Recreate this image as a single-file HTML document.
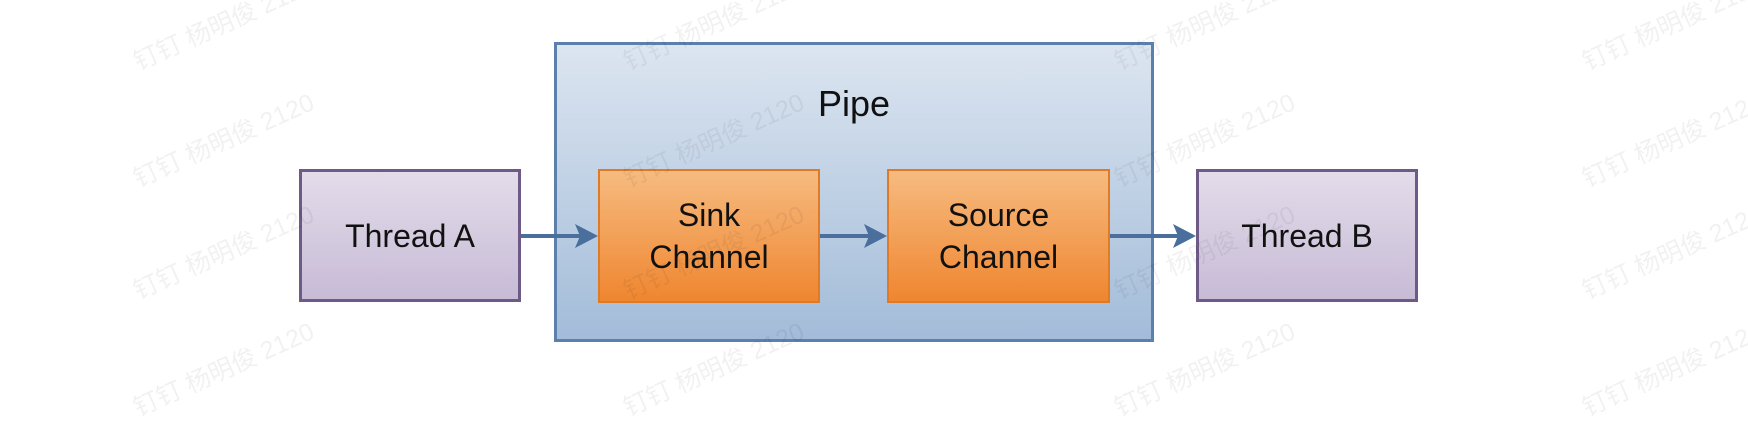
<!DOCTYPE html>
<html><head><meta charset="utf-8"><style>
body{margin:0;width:1748px;height:416px;background:#fff;position:relative;overflow:hidden;font-family:"Liberation Sans",sans-serif}
.b{position:absolute;box-sizing:border-box;display:flex;align-items:center;justify-content:center;text-align:center;color:#111;font-size:32px;line-height:42px}
.wm{position:absolute;color:rgba(0,0,0,0.055);font-size:25px;font-family:"Liberation Sans","Noto Sans CJK SC",sans-serif;transform:translate(-50%,-50%) rotate(-24deg);white-space:nowrap}
</style></head><body>
<div class="b" style="left:554px;top:42px;width:600px;height:300px;border:3px solid #5a80ab;background:linear-gradient(#dce5f0,#a3bcd9);align-items:flex-start;padding-top:38px;font-size:36px">Pipe</div>
<div class="b" style="left:299px;top:169px;width:222px;height:133px;border:3px solid #6d5a86;background:linear-gradient(#e3dcea,#c7bbd6)">Thread A</div>
<div class="b" style="left:1196px;top:169px;width:222px;height:133px;border:3px solid #6d5a86;background:linear-gradient(#e3dcea,#c7bbd6)">Thread B</div>
<div class="b" style="left:598px;top:169px;width:222px;height:134px;border:2px solid #e07a25;background:linear-gradient(#f6bb80,#ef8630)">Sink<br>Channel</div>
<div class="b" style="left:887px;top:169px;width:223px;height:134px;border:2px solid #e07a25;background:linear-gradient(#f6bb80,#ef8630)">Source<br>Channel</div>
<svg style="position:absolute;left:0;top:0" width="1748" height="416">
<g stroke="#4a6f9c" stroke-width="4" fill="#4a6f9c">
<line x1="521" y1="236" x2="580" y2="236"/><polygon points="598,236 575,224 580,236 575,248" stroke="none"/>
<line x1="820" y1="236" x2="870" y2="236"/><polygon points="887,236 864,224 869,236 864,248" stroke="none"/>
<line x1="1110" y1="236" x2="1178" y2="236"/><polygon points="1196,236 1173,224 1178,236 1173,248" stroke="none"/>
</g></svg>
<div class="wm" style="left:223px;top:22px">钉钉 杨明俊 2120</div>
<div class="wm" style="left:713px;top:22px">钉钉 杨明俊 2120</div>
<div class="wm" style="left:1204px;top:22px">钉钉 杨明俊 2120</div>
<div class="wm" style="left:1672px;top:22px">钉钉 杨明俊 2120</div>
<div class="wm" style="left:223px;top:139px">钉钉 杨明俊 2120</div>
<div class="wm" style="left:713px;top:139px">钉钉 杨明俊 2120</div>
<div class="wm" style="left:1204px;top:139px">钉钉 杨明俊 2120</div>
<div class="wm" style="left:1672px;top:139px">钉钉 杨明俊 2120</div>
<div class="wm" style="left:223px;top:251px">钉钉 杨明俊 2120</div>
<div class="wm" style="left:713px;top:251px">钉钉 杨明俊 2120</div>
<div class="wm" style="left:1204px;top:251px">钉钉 杨明俊 2120</div>
<div class="wm" style="left:1672px;top:251px">钉钉 杨明俊 2120</div>
<div class="wm" style="left:223px;top:368px">钉钉 杨明俊 2120</div>
<div class="wm" style="left:713px;top:368px">钉钉 杨明俊 2120</div>
<div class="wm" style="left:1204px;top:368px">钉钉 杨明俊 2120</div>
<div class="wm" style="left:1672px;top:368px">钉钉 杨明俊 2120</div>
</body></html>
